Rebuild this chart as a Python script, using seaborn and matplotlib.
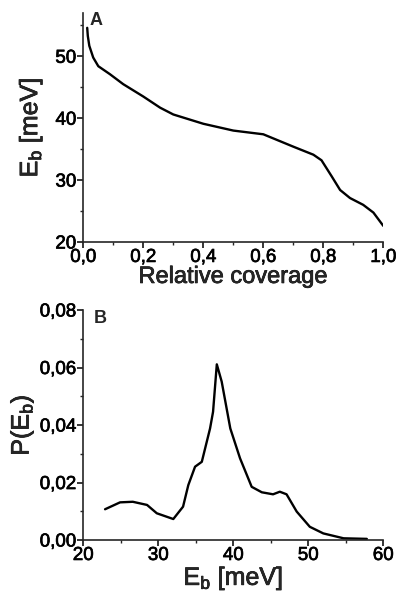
import matplotlib
matplotlib.use("Agg")
import matplotlib.pyplot as plt
import matplotlib.patheffects as pe
import seaborn as sns
import pandas as pd
from matplotlib.ticker import MultipleLocator, FuncFormatter

# panel A: binding energy vs relative coverage
coverage = [0.013, 0.015, 0.02, 0.033, 0.05, 0.089, 0.133, 0.20, 0.256, 0.30, 0.40,
            0.50, 0.60, 0.70, 0.767, 0.794, 0.828, 0.856, 0.889, 0.933, 0.967, 1.0]
eb_coverage = [54.6, 53.3, 51.7, 49.8, 48.4, 47.1, 45.5, 43.5, 41.7, 40.6, 39.1,
               38.0, 37.4, 35.4, 34.1, 33.2, 30.6, 28.4, 27.1, 26.0, 24.75, 22.6]

# panel B: distribution of binding energies
eb = [22.9, 24.9, 26.6, 28.5, 29.8, 32.0, 33.3, 34.0, 34.9, 35.8, 36.9, 37.3,
      37.8, 38.45, 39.6, 40.9, 42.45, 43.8, 45.3, 46.2, 47.1, 48.45, 50.2, 52.0,
      54.7, 57.8]
p_eb = [0.0107, 0.0131, 0.0133, 0.0122, 0.0093, 0.0073, 0.0116, 0.0191, 0.0255,
        0.0272, 0.0388, 0.0446, 0.0611, 0.0551, 0.0388, 0.0284, 0.0185, 0.0166,
        0.0159, 0.0168, 0.0159, 0.0099, 0.0046, 0.0023, 0.0006, 0.0004]

sns.set_style("ticks")
plt.rcParams['font.family'] = ['Liberation Sans', 'DejaVu Sans']
plt.rcParams['mathtext.default'] = 'regular'
plt.rcParams['xtick.direction'] = 'out'
plt.rcParams['ytick.direction'] = 'out'

heavy = [pe.withStroke(linewidth=0.5, foreground='black')]

dfa = pd.DataFrame({'x': coverage, 'y': eb_coverage})
dfb = pd.DataFrame({'x': eb, 'y': p_eb})

fig = plt.figure(figsize=(3.98, 5.95), dpi=100)
ax1 = fig.add_axes([0.2093, 0.5933, 0.7538, 0.3849])
ax2 = fig.add_axes([0.2093, 0.0924, 0.7538, 0.3866])

sns.lineplot(data=dfa, x='x', y='y', ax=ax1, color='black', lw=1.7, sort=False)
sns.lineplot(data=dfb, x='x', y='y', ax=ax2, color='black', lw=1.7, sort=False)

ax1.set_xlim(0, 1.0)
ax1.set_ylim(20, 57)
ax1.xaxis.set_major_locator(MultipleLocator(0.2))
ax1.xaxis.set_minor_locator(MultipleLocator(0.1))
ax1.yaxis.set_major_locator(MultipleLocator(10))
ax1.yaxis.set_minor_locator(MultipleLocator(5))
ax1.xaxis.set_major_formatter(FuncFormatter(lambda v, p: f"{v:.1f}".replace('.', ',')))
ax1.set_xlabel("Relative coverage", fontsize=17, labelpad=0, path_effects=heavy)
ax1.set_ylabel("E$_b$ [meV]", fontsize=18, labelpad=8, path_effects=heavy)
ax1.text(0.02, 1.005, "A", transform=ax1.transAxes, fontsize=13, fontweight='bold',
         va='top', ha='left')

ax2.set_xlim(20, 60)
ax2.set_ylim(0, 0.08)
ax2.xaxis.set_major_locator(MultipleLocator(10))
ax2.xaxis.set_minor_locator(MultipleLocator(5))
ax2.yaxis.set_major_locator(MultipleLocator(0.02))
ax2.yaxis.set_minor_locator(MultipleLocator(0.01))
ax2.yaxis.set_major_formatter(FuncFormatter(lambda v, p: f"{v:.2f}".replace('.', ',')))
ax2.set_xlabel("E$_b$ [meV]", fontsize=18, labelpad=0, path_effects=heavy)
ax2.set_ylabel("P(E$_b$)", fontsize=18, labelpad=3, path_effects=heavy)
ax2.text(0.035, 1.0, "B", transform=ax2.transAxes, fontsize=13, fontweight='bold',
         va='top', ha='left')

for ax in (ax1, ax2):
    sns.despine(ax=ax)
    ax.spines['left'].set_linewidth(1.2)
    ax.spines['bottom'].set_linewidth(1.2)
    ax.tick_params(which='major', length=4, width=1.1, labelsize=13.5, pad=1, colors='black')
    ax.tick_params(which='minor', length=2.5, width=1.0)
    for lab in ax.get_xticklabels() + ax.get_yticklabels():
        lab.set_path_effects(heavy)

fig.savefig("out.png", dpi=100)
